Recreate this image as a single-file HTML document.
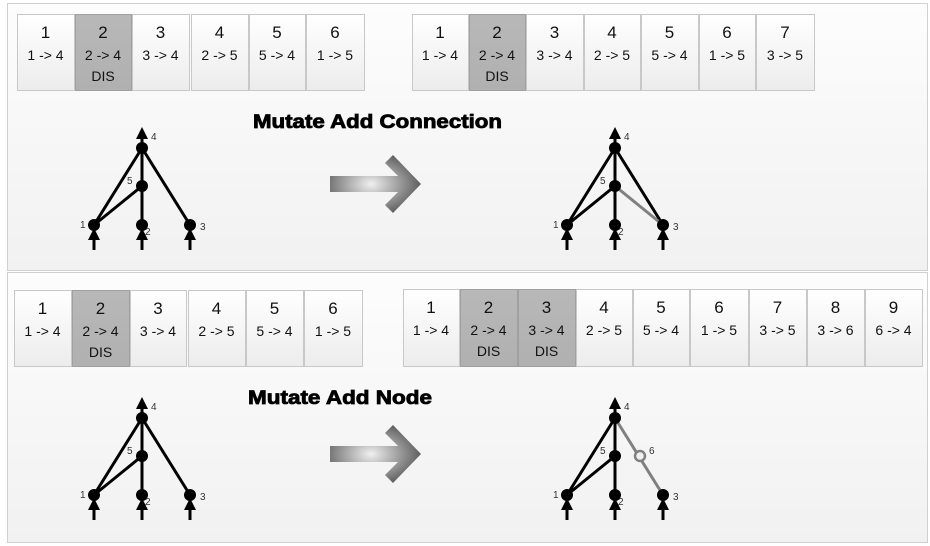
<!DOCTYPE html>
<html><head><meta charset="utf-8"><style>
body{margin:0;background:#fff;}
svg{display:block;font-family:"Liberation Sans",sans-serif;}
.t{font-family:"Liberation Sans","DejaVu Sans",sans-serif;}
</style></head><body>
<svg width="930" height="546" viewBox="0 0 930 546" xmlns="http://www.w3.org/2000/svg">
<defs>
<linearGradient id="bg" x1="0" y1="0" x2="0" y2="1"><stop offset="0" stop-color="#fdfdfd"/><stop offset="1" stop-color="#f1f1f1"/></linearGradient>
<linearGradient id="cell" x1="0" y1="0" x2="0" y2="1"><stop offset="0" stop-color="#ffffff"/><stop offset="1" stop-color="#ececec"/></linearGradient>
<linearGradient id="cellg" x1="0" y1="0" x2="0" y2="1"><stop offset="0" stop-color="#b8b8b8"/><stop offset="1" stop-color="#b0b0b0"/></linearGradient>
<radialGradient id="arr" cx="0.45" cy="0.5" r="0.6"><stop offset="0" stop-color="#f0f0f0"/><stop offset="1" stop-color="#505050"/></radialGradient>
<marker id="ah" viewBox="0 0 10 10" refX="5" refY="5" markerWidth="4" markerHeight="4" orient="auto"><path d="M0,0 L10,5 L0,10 z" fill="#000"/></marker>
</defs>
<rect x="0" y="0" width="930" height="546" fill="#fff"/>
<rect x="7.5" y="3.5" width="920" height="267" fill="url(#bg)" stroke="#d0d0d0"/>
<rect x="7.5" y="272.5" width="920" height="270" fill="url(#bg)" stroke="#d0d0d0"/>

<g id="cells" class="t" text-anchor="middle" fill="#111"></g>

<polygon points="330,176 398,176 385,163 393,155 421,184 393,213 385,205 398,192 330,192" fill="url(#arr)"/>
<polygon points="330,446 398,446 385,433 393,425 421,454 393,483 385,475 398,462 330,462" fill="url(#arr)"/>

<text x="253" y="128" font-size="19" font-weight="bold" stroke="#000" stroke-width="0.8" textLength="249" lengthAdjust="spacingAndGlyphs" font-family="Liberation Sans,sans-serif">Mutate Add Connection</text>
<text x="248" y="404" font-size="19" font-weight="bold" stroke="#000" stroke-width="0.8" textLength="184" lengthAdjust="spacingAndGlyphs" font-family="Liberation Sans,sans-serif">Mutate Add Node</text>

<g id="graphs"></g>
</svg>
<script>
const NS="http://www.w3.org/2000/svg";
const cells=document.getElementById('cells');
function el(p,tag,a,txt){const e=document.createElementNS(NS,tag);for(const k in a)e.setAttribute(k,a[k]);if(txt!==undefined)e.textContent=txt;p.appendChild(e);return e;}
function table(xs,y0,y1,data){
 for(let i=0;i<data.length;i++){
  const [n,c,dis]=data[i];const x0=xs[i],x1=xs[i+1]-1;
  el(cells,'rect',{x:x0+0.5,y:y0+0.5,width:x1-x0,height:y1-y0,fill:dis?'url(#cellg)':'url(#cell)',stroke:dis?'#a0a0a0':'#c8c8c8'});
  const cx=(x0+x1)/2;
  el(cells,'text',{x:cx,y:y0+24,'font-size':17},n);
  el(cells,'text',{x:cx,y:y0+46,'font-size':14},c);
  if(dis)el(cells,'text',{x:cx,y:y0+67,'font-size':14},'DIS');
 }
}
const base=[['1','1 -> 4'],['2','2 -> 4',1],['3','3 -> 4'],['4','2 -> 5'],['5','5 -> 4'],['6','1 -> 5']];
table([17,75,132,190],14,90,base.slice(0,3));
table([191,249,306,365],14,90,base.slice(3));
table([412,469,526,584,641,699,756,815],14,90,base.concat([['7','3 -> 5']]));
table([14,72,130,187],290,366,base.slice(0,3));
table([188,246,304,363],290,366,base.slice(3));
table([403,460,518,576,633,690,749,807,865,923],289,366,[['1','1 -> 4'],['2','2 -> 4',1],['3','3 -> 4',1],['4','2 -> 5'],['5','5 -> 4'],['6','1 -> 5'],['7','3 -> 5'],['8','3 -> 6'],['9','6 -> 4']]);

const g=document.getElementById('graphs');
function graph(cx,ty,mode){
 const n4=[cx,ty],n5=[cx,ty+38],n1=[cx-48,ty+77],n2=[cx,ty+77],n3=[cx+48,ty+77];
 const L=(a,b,c)=>el(g,'line',{x1:a[0],y1:a[1],x2:b[0],y2:b[1],stroke:c||'#000','stroke-width':3});
 L(n1,n4);L(n1,n5);L(n2,n4);
 if(mode===2){L(n4,n3,'#808080');}else L(n3,n4);
 if(mode===1)L(n3,n5,'#808080');
 el(g,'line',{x1:cx,y1:ty,x2:cx,y2:ty-15,stroke:'#000','stroke-width':3,'marker-end':'url(#ah)'});
 for(const n of [n1,n2,n3])el(g,'line',{x1:n[0],y1:n[1]+25,x2:n[0],y2:n[1]+9,stroke:'#000','stroke-width':3,'marker-end':'url(#ah)'});
 for(const n of [n4,n5,n1,n2,n3])el(g,'circle',{cx:n[0],cy:n[1],r:6,fill:'#000'});
 if(mode===2){const m=[cx+25,ty+38];el(g,'circle',{cx:m[0],cy:m[1],r:5,fill:'#f0f0f0',stroke:'#808080','stroke-width':2.5});el(g,'text',{x:m[0]+9,y:m[1]-2,'font-size':10,fill:'#333'},'6');}
 const T=(x,y,s)=>el(g,'text',{x:x,y:y,'font-size':10,fill:'#333'},s);
 T(cx+9,ty-8,'4');T(cx-15,ty+36,'5');T(n1[0]-14,n1[1]+3,'1');T(n2[0]+3,n2[1]+10,'2');T(n3[0]+10,n3[1]+5,'3');
}
graph(142,148,0);graph(615,148,1);graph(142,418,0);graph(615,418,2);
</script>
</body></html>
